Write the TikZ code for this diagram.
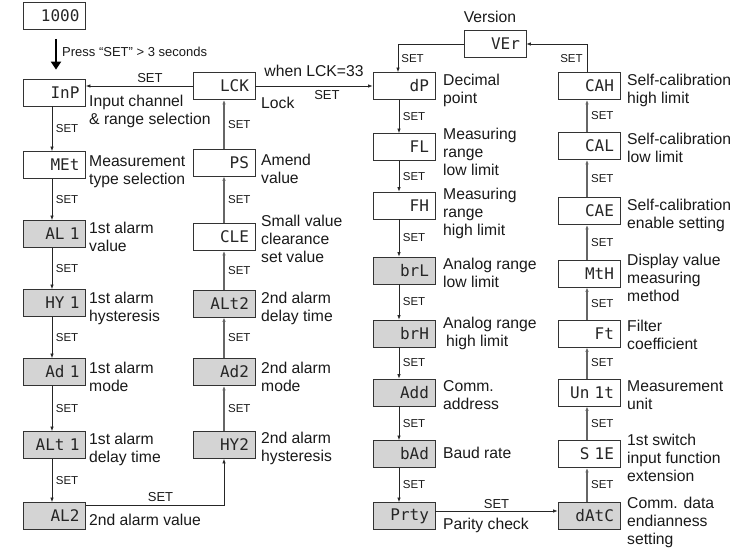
\documentclass[tikz,border=0pt]{standalone}
\usepackage{fontspec}
\setmainfont{Liberation Sans}
\newfontfamily\segfont{DejaVu Sans Mono}
\usetikzlibrary{arrows.meta,calc}
\newcommand\lblf{\fontsize{15.7pt}{18pt}\selectfont}
\newcommand\setvf{\fontsize{11.5pt}{13pt}\selectfont}
\newcommand\sethf{\fontsize{13pt}{15pt}\selectfont}
\newcommand\segf{\segfont\fontsize{16pt}{16pt}\selectfont}
\tikzset{
  disp/.style={draw=black!80, line width=0.8pt, fill=white, minimum width=62pt, minimum height=27pt,
    text width=50pt, align=right, inner sep=0pt, font=\segf, text=black!85},
  dispg/.style={disp, fill=black!17},
  lbl/.style={anchor=north west, inner sep=0pt, align=left, font=\lblf, text=black!90},
  setv/.style={font=\setvf, inner sep=0pt, anchor=west, text=black!90},
  seth/.style={font=\sethf, inner sep=0pt, text=black!90},
  dn/.style={draw=black!85, line width=0.7pt, -{Latex[length=4.5pt,width=3.5pt]}},
  upar/.style={draw=black!60, line width=1.3pt, -{Latex[length=4.5pt,width=3.5pt]}},
}
\begin{document}
\begin{tikzpicture}[x=1pt,y=-1pt]
\useasboundingbox (0,0) rectangle (745,551);
% column 1
\node[disp] (n1000) at (54.5,16) {1000};
\node[disp] (InP) at (54.5,92.5) {InP};
\node[disp] (MEt) at (54.5,165) {MEt};
\node[dispg] (AL1) at (54.5,234) {AL 1};
\node[dispg] (HY1) at (54.5,303) {HY 1};
\node[dispg] (Ad1) at (54.5,372) {Ad 1};
\node[dispg] (ALt1) at (54.5,445) {ALt 1};
\node[dispg] (AL2) at (54.5,516) {AL2};
% column 2
\node[disp] (LCK) at (224,86) {LCK};
\node[disp] (PS) at (224,162.5) {PS};
\node[disp] (CLE) at (224,237) {CLE};
\node[dispg] (ALt2) at (224,303.5) {ALt2};
\node[dispg] (Ad2) at (224,372) {Ad2};
\node[dispg] (HY2) at (224,445) {HY2};
% column 3
\node[disp] (dP) at (404,86) {dP};
\node[disp] (FL) at (404,147) {FL};
\node[disp] (FH) at (404,205.5) {FH};
\node[dispg] (brL) at (404,270.5) {brL};
\node[dispg] (brH) at (404,333.5) {brH};
\node[dispg] (Add) at (404,392.5) {Add};
\node[dispg] (bAd) at (404,454) {bAd};
\node[dispg] (Prty) at (404,516) {Prty};
\node[disp] (VEr) at (495,44) {VEr};
% column 4
\node[disp] (CAH) at (589,86) {CAH};
\node[disp] (CAL) at (589,146) {CAL};
\node[disp] (CAE) at (589,211) {CAE};
\node[disp] (MtH) at (589,273.5) {MtH};
\node[disp] (Ft) at (589,333.5) {Ft};
\node[disp] (Unit) at (589,392.5) {Un 1t};
\node[disp] (S1E) at (589,454) {S 1E};
\node[dispg] (dAtC) at (589,516) {dAtC};

% labels
\node[lbl] (lInP) at (89,95) {Input channel\\\& range selection};
\node[lbl] (lMEt) at (89,155) {Measurement\\type selection};
\node[lbl] (lAL1) at (89,222) {1st alarm\\value};
\node[lbl] (lHY1) at (89,292) {1st alarm\\hysteresis};
\node[lbl] (lAd1) at (89,362) {1st alarm\\mode};
\node[lbl] (lALt1) at (89,433) {1st alarm\\delay time};
\node[lbl] (lAL2) at (89,514) {2nd alarm value};
\node[lbl] (lLCK) at (261,97) {Lock};
\node[lbl] (lPS) at (261,154) {Amend\\value};
\node[lbl] (lCLE) at (261,215) {Small value\\clearance\\set value};
\node[lbl] (lALt2) at (261,292) {2nd alarm\\delay time};
\node[lbl] (lAd2) at (261,362) {2nd alarm\\mode};
\node[lbl] (lHY2) at (261,432) {2nd alarm\\hysteresis};
\node[lbl] (ldP) at (443,74) {Decimal\\point};
\node[lbl] (lFL) at (443,128) {Measuring\\range\\low limit};
\node[lbl] (lFH) at (443,188) {Measuring\\range\\high limit};
\node[lbl] (lbrL) at (443,258) {Analog range\\low limit};
\node[lbl] (lbrH) at (443,317) {Analog range\\\hspace{3pt}high limit};
\node[lbl] (lAdd) at (443,380) {Comm.\\address};
\node[lbl] (lbAd) at (443,447) {Baud rate};
\node[lbl] (lPrty) at (443,518) {Parity check};
\node[font=\lblf, inner sep=0pt, text=black!90] (lVEr) at (490,17) {Version};
\node[lbl] (lCAH) at (627,74) {Self-calibration\\high limit};
\node[lbl] (lCAL) at (627,133) {Self-calibration\\low limit};
\node[lbl] (lCAE) at (627,199) {Self-calibration\\enable setting};
\node[lbl] (lMtH) at (627,254) {Display value\\measuring\\method};
\node[lbl] (lFt) at (627,320) {Filter\\coefficient};
\node[lbl] (lUnit) at (627,380) {Measurement\\unit};
\node[lbl] (lS1E) at (627,434) {1st switch\\input function\\extension};
\node[lbl] (ldAtC) at (627,497) {Comm. data\\endianness\\setting};

% entry arrow
\draw[black, line width=2.2pt, -{Triangle[length=8pt,width=10pt]}, shorten <=9pt, shorten >=9pt]
  ([xshift=1.5pt]n1000.south) -- ([xshift=1.5pt]InP.north);
\node[anchor=west, inner sep=0pt, font=\sethf, text=black!90] (press) at (62,52) {Press “SET” > 3 seconds};

% column 1 down
\foreach \a/\b in {InP/MEt, MEt/AL1, AL1/HY1, HY1/Ad1, Ad1/ALt1, ALt1/AL2}
  \draw[dn] ([xshift=-2.5pt]\a.south) -- node[setv, xshift=3.5pt]{SET} ([xshift=-2.5pt]\b.north);
% column 2 up
\foreach \a/\b in {HY2/Ad2, Ad2/ALt2, ALt2/CLE, CLE/PS, PS/LCK}
  \draw[upar] (\a.north) -- node[setv, xshift=3.5pt]{SET} (\b.south);
% column 3 down
\foreach \a/\b in {dP/FL, FL/FH, FH/brL, brL/brH, brH/Add, Add/bAd, bAd/Prty}
  \draw[dn] ([xshift=-5pt]\a.south) -- node[setv, xshift=3.5pt]{SET} ([xshift=-5pt]\b.north);
% column 4 up
\foreach \a/\b in {dAtC/S1E, S1E/Unit, Unit/Ft, Ft/MtH, MtH/CAE, CAE/CAL, CAL/CAH}
  \draw[upar] ([xshift=-2pt]\a.north) -- node[setv, xshift=3.5pt]{SET} ([xshift=-2pt]\b.south);

% horizontal connectors
\draw[dn] (LCK.west) -- node[seth, above=3pt, pos=0.4]{SET} (LCK.west -| InP.east);
\draw[dn] (LCK.east) -- node[font=\lblf, inner sep=0pt, text=black!90, above=8.5pt]{when LCK=33}
  node[seth, below=4.5pt, pos=0.61]{SET} (dP.west);
\draw[dn] (VEr.west) -| node[setv, pos=0.75, xshift=3pt]{SET} ([xshift=-6pt]dP.north);
\draw[dn] ([xshift=-2pt]CAH.north) |- node[setv, anchor=east, pos=0.25, xshift=-4pt]{SET} (VEr.east);
\draw[dn] ([yshift=-3pt]AL2.north east) -| node[seth, above=3pt, pos=0.27]{SET} (HY2.south);
\draw[dn] ([yshift=5pt]Prty.east) -- node[seth, above=2.5pt]{SET} ([yshift=5pt]dAtC.west);
\end{tikzpicture}
\end{document}
